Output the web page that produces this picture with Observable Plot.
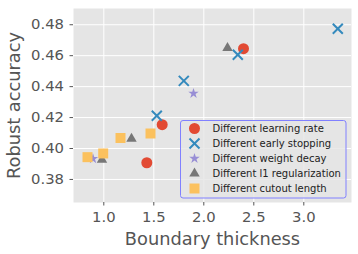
<!DOCTYPE html>
<html>
<head>
<meta charset="utf-8">
<script src="https://cdn.jsdelivr.net/npm/d3@7"></script>
<script src="https://cdn.jsdelivr.net/npm/@observablehq/plot@0.6"></script>
<style>
  html, body { margin: 0; padding: 0; background: #fff; }
  #chart { width: 358px; height: 254px; }
  svg { font-family: "DejaVu Sans", sans-serif; }
</style>
</head>
<body>
<div id="chart"></div>
<script>
// Series data (Boundary thickness, Robust accuracy)
const seriesNames = [
  "Different learning rate",
  "Different early stopping",
  "Different weight decay",
  "Different l1 regularization",
  "Different cutout length"
];
const lrX = [2.397, 1.584, 1.430];
const lrY = [0.4645, 0.4154, 0.3908];
const esX = [3.34, 2.34, 1.80, 1.53];
const esY = [0.4774, 0.4606, 0.4437, 0.4212];
const wdX = [1.897, 0.892];
const wdY = [0.4356, 0.3934];
const l1X = [2.237, 1.277, 0.982];
const l1Y = [0.4650, 0.4063, 0.3927];
const coX = [0.837, 0.994, 1.167, 1.467];
const coY = [0.3944, 0.3968, 0.4068, 0.4097];

const xTicks = [1.0, 1.5, 2.0, 2.5, 3.0];
const yTicks = [0.38, 0.40, 0.42, 0.44, 0.46, 0.48];

const colors = ["#E24A33", "#348ABD", "#988ED5", "#777777", "#FBC15E"];
const symbols = ["circle", "times", "star", "triangle", "square"];
// symbol areas (px^2)
const areas = [95, 67, 34, 47, 100];

const toRows = (xs, ys) => xs.map((x, i) => ({x, y: ys[i]}));
const groups = [
  toRows(lrX, lrY), toRows(esX, esY), toRows(wdX, wdY), toRows(l1X, l1Y), toRows(coX, coY)
];

const dotMarks = groups.map((rows, i) => {
  const stroked = symbols[i] === "times";
  return Plot.dot(rows, {
    x: "x", y: "y",
    symbol: symbols[i],
    r: Math.sqrt(areas[i] / Math.PI),
    fill: stroked ? "none" : colors[i],
    stroke: stroked ? colors[i] : "none",
    strokeWidth: stroked ? 2 : 0
  });
});

const chart = Plot.plot({
  width: 358,
  height: 254,
  marginLeft: 73,
  marginRight: 7,
  marginTop: 8,
  marginBottom: 52,
  style: {fontFamily: "DejaVu Sans, sans-serif", color: "#555555", background: "white"},
  x: {domain: [0.697, 3.477]},
  y: {domain: [0.3651, 0.4905]},
  marks: [
    Plot.frame({fill: "#E5E5E5", stroke: "none"}),
    Plot.gridX(xTicks, {stroke: "white", strokeOpacity: 1, strokeWidth: 1}),
    Plot.gridY(yTicks, {stroke: "white", strokeOpacity: 1, strokeWidth: 1}),
    Plot.axisX(xTicks, {
      tickFormat: d3.format(".1f"), fontSize: 14.8, tickSize: 3.5, tickPadding: 5.5,
      stroke: "#555555", fill: "#555555",
      label: "Boundary thickness", labelAnchor: "center", labelArrow: "none", labelOffset: 42
    }),
    Plot.axisY(yTicks, {
      tickFormat: d3.format(".2f"), fontSize: 14.8, tickSize: 3.5, tickPadding: 6,
      stroke: "#555555", fill: "#555555",
      label: "Robust accuracy", labelAnchor: "center", labelArrow: "none", labelOffset: 66.6
    }),
    ...dotMarks
  ]
});

// make axis labels bigger
d3.select(chart).selectAll("g[aria-label='x-axis label'] text, g[aria-label='y-axis label'] text")
  .style("font-size", "17.8px");
d3.select(chart).selectAll("g[aria-label='x-axis label'], g[aria-label='y-axis label']")
  .attr("font-size", 17.8);

// Legend (inside plot, lower right)
const svg = d3.select(chart);
const lg = svg.append("g").attr("transform", "translate(180.5,120.5)")
  .attr("text-anchor", "start");
lg.append("rect")
  .attr("width", 165.5).attr("height", 77.5)
  .attr("rx", 2.5).attr("ry", 2.5)
  .attr("fill", "#E5E5E5").attr("fill-opacity", 0.8)
  .attr("stroke", "#8080FF").attr("stroke-width", 1);
const symMap = {circle: d3.symbolCircle, times: d3.symbolTimes, star: d3.symbolStar, triangle: d3.symbolTriangle, square: d3.symbolSquare};
seriesNames.forEach((name, i) => {
  const row = lg.append("g").attr("transform", `translate(0,${8 + i * 15})`);
  const stroked = symbols[i] === "times";
  row.append("path")
    .attr("transform", "translate(14,0)")
    .attr("d", d3.symbol(symMap[symbols[i]], areas[i])())
    .attr("fill", stroked ? "none" : colors[i])
    .attr("stroke", stroked ? colors[i] : "none")
    .attr("stroke-width", stroked ? 2 : 0);
  row.append("text")
    .attr("x", 32).attr("y", 0).attr("dy", "0.35em")
    .attr("text-anchor", "start")
    .attr("font-size", 10).attr("fill", "#222")
    .style("font-family", "DejaVu Sans, sans-serif")
    .text(name);
});

document.getElementById("chart").appendChild(chart);
</script>
</body>
</html>
